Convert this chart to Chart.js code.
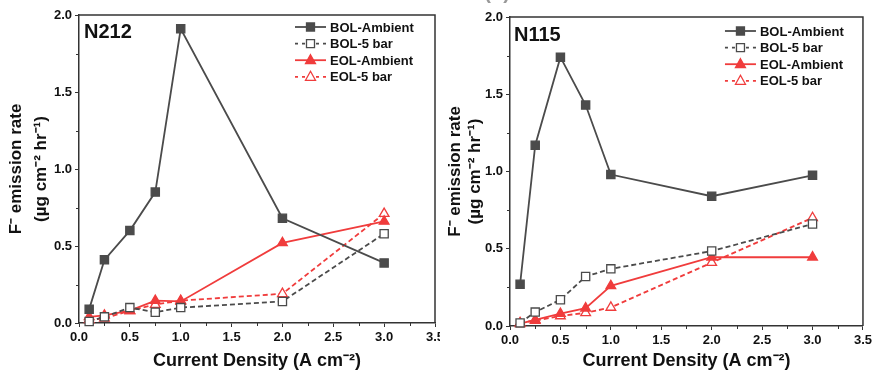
<!DOCTYPE html>
<html>
<head>
<meta charset="utf-8">
<script src="https://cdn.jsdelivr.net/npm/chart.js@4.4.0/dist/chart.umd.min.js"></script>
<style>
  body { margin: 0; background: #fff; width: 875px; height: 374px; overflow: hidden; position: relative; font-family: "Liberation Sans", Arial, sans-serif; }
  #boxL { position: absolute; left: 0; top: 0; width: 452px; height: 374px; }
  #boxR { position: absolute; left: 440px; top: 0; width: 435px; height: 374px; background: #fff; }
  #cut { position: absolute; right: 365px; top: -18px; font: bold 20px/20px "Liberation Sans", Arial, sans-serif; color: #999; white-space: nowrap; }
</style>
</head>
<body>
<div id="boxL"><canvas id="chartL" width="452" height="374"></canvas></div>
<div id="boxR"><canvas id="chartR" width="435" height="374"></canvas></div>
<div id="cut">rate (α)</div>
<script>
// x values (A cm-2), shared by every series
const currentDensity = [0.1, 0.25, 0.5, 0.75, 1.0, 2.0, 3.0];
const seriesNames = ["BOL-Ambient", "BOL-5 bar", "EOL-Ambient", "EOL-5 bar"];

// N212 panel
const n212BolAmbient = [0.09, 0.41, 0.60, 0.85, 1.91, 0.68, 0.39];
const n212Bol5bar = [0.01, 0.04, 0.10, 0.07, 0.10, 0.14, 0.58];
const n212EolAmbient = [0.04, 0.05, 0.08, 0.145, 0.14, 0.52, 0.66];
const n212Eol5bar = [0.02, 0.03, 0.08, 0.12, 0.145, 0.19, 0.71];

// N115 panel
const n115BolAmbient = [0.27, 1.17, 1.74, 1.43, 0.98, 0.84, 0.975];
const n115Bol5bar = [0.02, 0.09, 0.17, 0.32, 0.37, 0.485, 0.66];
const n115EolAmbient = [0.015, 0.04, 0.08, 0.115, 0.26, 0.445, 0.445];
const n115Eol5bar = [0.02, 0.035, 0.065, 0.085, 0.12, 0.41, 0.70];

const GRAY = "#4b4b4b";
const RED = "#f03c3c";
const FONT = "'Liberation Sans', Arial, sans-serif";

// look of each series
const styles = [
  { color: GRAY, dash: [], fill: GRAY, shape: "rect" },
  { color: GRAY, dash: [5, 3], fill: "#fff", shape: "rect" },
  { color: RED, dash: [], fill: RED, shape: "triangle" },
  { color: RED, dash: [5, 3], fill: "#fff", shape: "triangle" },
];

function drawMarker(ctx, shape, x, y, fill, stroke) {
  ctx.save();
  ctx.setLineDash([]);
  ctx.fillStyle = fill;
  ctx.strokeStyle = stroke;
  ctx.lineWidth = 1.3;
  ctx.beginPath();
  if (shape === "rect") {
    ctx.rect(x - 4, y - 4, 8, 8);
  } else {
    ctx.moveTo(x, y - 5.5);
    ctx.lineTo(x + 5, y + 3.5);
    ctx.lineTo(x - 5, y + 3.5);
    ctx.closePath();
  }
  ctx.fill();
  ctx.stroke();
  ctx.restore();
}

// frame, minor ticks, panel label and legend
const decor = {
  id: "decor",
  afterDraw(chart, args, opts) {
    const ctx = chart.ctx;
    const a = chart.chartArea;
    const xs = chart.scales.x;
    const ys = chart.scales.y;
    ctx.save();
    ctx.strokeStyle = "#333";
    ctx.lineWidth = 1.5;
    ctx.beginPath();
    ctx.moveTo(a.left, a.top);
    ctx.lineTo(a.right, a.top);
    ctx.lineTo(a.right, a.bottom);
    ctx.stroke();

    ctx.lineWidth = 1;
    ctx.beginPath();
    for (let v = 0.25; v < 3.5; v += 0.5) {
      const px = Math.round(xs.getPixelForValue(v)) + 0.5;
      ctx.moveTo(px, a.bottom);
      ctx.lineTo(px, a.bottom + 3);
    }
    for (let v = 0.25; v < 2; v += 0.5) {
      const py = Math.round(ys.getPixelForValue(v)) + 0.5;
      ctx.moveTo(a.left, py);
      ctx.lineTo(a.left - 3, py);
    }
    ctx.stroke();

    ctx.fillStyle = "#111";
    ctx.font = "bold 20px " + FONT;
    ctx.textBaseline = "middle";
    ctx.fillText(opts.label, a.left + opts.labelDx, a.top + opts.labelDy);

    ctx.font = "bold 13px " + FONT;
    seriesNames.forEach((name, i) => {
      const s = styles[i];
      const y = a.top + opts.legendTop + i * 16.6;
      const x0 = a.right - opts.legendDx;
      ctx.strokeStyle = s.color;
      ctx.lineWidth = 1.8;
      ctx.setLineDash(s.dash.length ? [3, 4] : []);
      ctx.beginPath();
      ctx.moveTo(x0, y);
      ctx.lineTo(x0 + 31, y);
      ctx.stroke();
      drawMarker(ctx, s.shape, x0 + 15.5, y, s.fill, s.color);
      ctx.fillStyle = "#111";
      ctx.fillText(name, x0 + 35, y + 1);
    });
    ctx.restore();
  },
};

function makePanel(id, label, values, lay) {
  const datasets = values.map((vals, i) => ({
    label: seriesNames[i],
    data: currentDensity.map((x, j) => ({ x: x, y: vals[j] })),
    borderColor: styles[i].color,
    borderWidth: 1.8,
    borderDash: styles[i].dash,
    backgroundColor: styles[i].fill,
    pointStyle: styles[i].shape,
    pointRadius: styles[i].shape === "rect" ? 5.8 : 5.6,
    pointBorderWidth: 1.3,
    pointBorderColor: styles[i].color,
    pointBackgroundColor: styles[i].fill,
    tension: 0,
    clip: false,
  }));

  const tickFont = { family: FONT, size: 13, weight: "bold" };
  return new Chart(document.getElementById(id), {
    type: "line",
    data: { datasets: datasets },
    options: {
      responsive: false,
      animation: false,
      events: [],
      layout: { padding: { left: 0, right: lay.padRight, top: lay.padTop, bottom: 0 } },
      plugins: {
        legend: { display: false },
        tooltip: { enabled: false },
        decor: lay.decor,
      },
      scales: {
        x: {
          type: "linear",
          min: 0,
          max: 3.5,
          afterFit: (s) => { s.height = lay.xHeight; },
          ticks: { stepSize: 0.5, color: "#111", font: tickFont, padding: 3, maxRotation: 0, callback: (v) => v.toFixed(1) },
          grid: { drawOnChartArea: false, drawTicks: true, tickLength: 4, tickColor: "#333", tickWidth: 1 },
          border: { display: true, color: "#333", width: 1.5 },
          title: {
            display: true,
            text: "Current Density (A cm⁻²)",
            color: "#111",
            font: { family: FONT, size: 18, weight: "bold" },
            padding: { top: 0, bottom: 2 },
          },
        },
        y: {
          min: 0,
          max: 2.0,
          afterFit: (s) => { s.width = lay.yWidth; },
          ticks: { stepSize: 0.5, color: "#111", font: tickFont, padding: 3, callback: (v) => v.toFixed(1) },
          grid: { drawOnChartArea: false, drawTicks: true, tickLength: 4, tickColor: "#333", tickWidth: 1 },
          border: { display: true, color: "#333", width: 1.5 },
          title: {
            display: true,
            text: ["F⁻ emission rate", "(µg cm⁻² hr⁻¹)"],
            color: "#111",
            font: { family: FONT, size: 17, weight: "bold", lineHeight: lay.titleLine },
            padding: { top: lay.titlePad, bottom: 0 },
          },
        },
      },
    },
    plugins: [decor],
  });
}

makePanel("chartL", "N212", [n212BolAmbient, n212Bol5bar, n212EolAmbient, n212Eol5bar], {
  padRight: 17, padTop: 15, xHeight: 51, yWidth: 79, titleLine: 25 / 17, titlePad: 3.5,
  decor: { label: "N212", labelDx: 5, labelDy: 17, legendTop: 12, legendDx: 140 },
});

makePanel("chartR", "N115", [n115BolAmbient, n115Bol5bar, n115EolAmbient, n115Eol5bar], {
  padRight: 11, padTop: 17, xHeight: 48, yWidth: 70, titleLine: 20 / 17, titlePad: 5,
  decor: { label: "N115", labelDx: 4, labelDy: 18, legendTop: 14, legendDx: 138 },
});
</script>
</body>
</html>
